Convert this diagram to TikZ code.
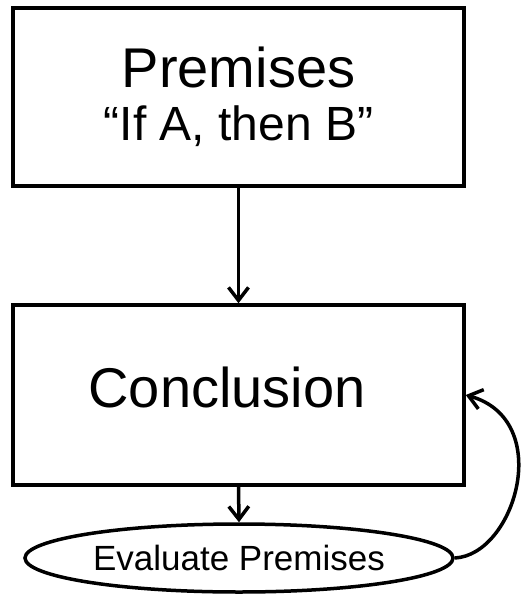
\documentclass[tikz,border=0pt]{standalone}
\usepackage{fontspec}
\setmainfont{Liberation Sans}
\usetikzlibrary{shapes.geometric,arrows.meta}
\begin{document}
\begin{tikzpicture}[x=1pt,y=-1pt,
  box/.style={draw,line width=3.5pt,minimum width=451pt,inner sep=0pt},
  conn/.style={line width=3.5pt,-{Straight Barb[length=13pt,width=20pt,line width=3.5pt]}},
  lbl/.style={anchor=base,inner sep=0pt}]
\useasboundingbox (0,0) rectangle (522,594);
\node[box,minimum height=178pt] (top) at (238.5,97) {};
\node[box,minimum height=180pt] (conc) at (238.5,395) {};
\node[draw,line width=3.5pt,ellipse,minimum width=428pt,minimum height=68pt,inner sep=0pt] (ell) at (239,558)
  {\fontsize{35}{40}\selectfont Evaluate Premises};
\node[lbl] (t1) at (238.5,88) {\fontsize{56}{60}\selectfont Premises};
\node[lbl] (t2) at (238.5,140) {\fontsize{48}{52}\selectfont “If A, then B”};
\node[lbl] (t3) at (227,407) {\fontsize{56}{60}\selectfont Conclusion};
\draw[conn] (top.south) -- (conc.north);
\draw[conn] (conc.south) -- (ell.north);
\draw[conn] (ell.east) .. controls (515,555) and (555,420) .. (conc.east);
\end{tikzpicture}
\end{document}
